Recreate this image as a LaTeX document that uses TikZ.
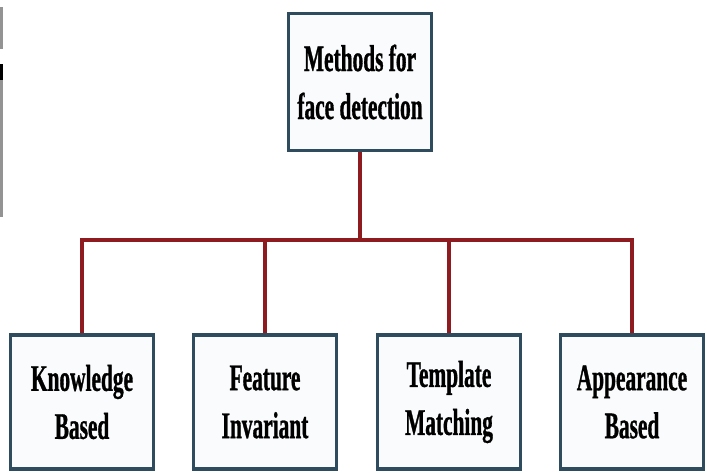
\documentclass[tikz,border=0pt]{standalone}
\usepackage{fontspec}
\newfontfamily\boxfont{Liberation Serif}[FakeStretch=0.57, BoldFeatures={FakeBold=0.8}]
\definecolor{boxedge}{HTML}{2F4B5E}
\definecolor{boxfill}{HTML}{F9FBFC}
\definecolor{linkred}{HTML}{8E1B1F}
\tikzset{
  methodbox/.style={draw=boxedge, fill=boxfill, line width=3.8pt,
    minimum width=143pt, align=center,
    font=\boxfont\bfseries\fontsize{37.5}{48}\selectfont},
  link/.style={draw=linkred, line width=3.6pt}
}
\begin{document}
\begin{tikzpicture}[x=1pt, y=-1pt]
  \useasboundingbox (0,0) rectangle (707,472);
  \fill[white] (0,0) rectangle (707,472);
  % strips along the left edge
  \fill[gray!85] (0,7) rectangle (3,49);
  \fill[black] (0,64) rectangle (3,80);
  \fill[gray!85] (0,80) rectangle (3,217);

  % root box
  \node[methodbox, minimum height=137pt] (root) at (360,82)
    {Methods for\\face detection};

  % leaf boxes
  \node[methodbox, minimum height=134pt] (kb) at (82,402)  {Knowledge\\Based};
  \node[methodbox, minimum height=134pt] (fi) at (265,402) {Feature\\Invariant};
  \node[methodbox, minimum height=134pt] (tm) at (449,402) {Template\\Matching};
  \node[methodbox, minimum height=134pt] (ab) at (632,402) {Appearance\\Based};

  % connectors
  \coordinate (bus) at (360,240);
  \draw[link] (root.south) -- (bus);
  \draw[link, line width=4.2pt, line cap=rect] (kb.north |- bus) -- (ab.north |- bus);
  \foreach \leaf in {kb,fi,tm,ab}
    \draw[link] (\leaf.north |- bus) -- (\leaf.north);
\end{tikzpicture}
\end{document}
